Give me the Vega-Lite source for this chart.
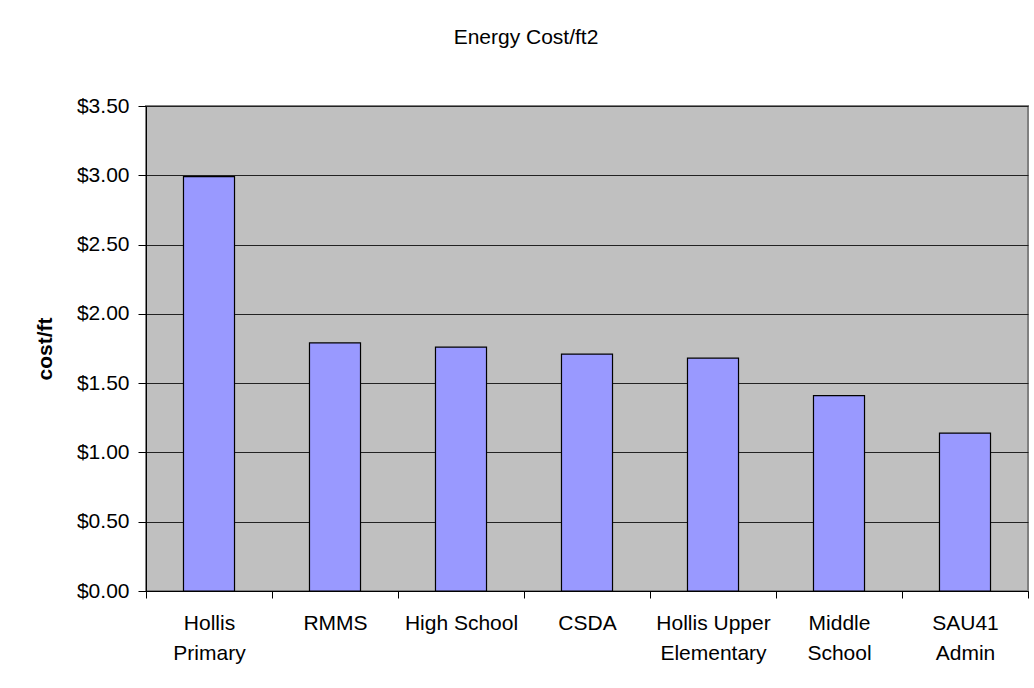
{
  "$schema": "https://vega.github.io/schema/vega-lite/v6.json",
  "width": 882,
  "height": 485,
  "autosize": {"type": "none"},
  "padding": {"left": 146, "top": 106, "right": 6, "bottom": 97},
  "background": "white",
  "title": {
    "text": "Energy Cost/ft2",
    "font": "Liberation Sans",
    "fontSize": 21,
    "fontWeight": "normal",
    "color": "black",
    "anchor": "middle",
    "frame": "group",
    "baseline": "alphabetic",
    "offset": 30,
    "dx": -61
  },
  "data": {
    "values": [
      {"school": "Hollis Primary", "cost": 2.99},
      {"school": "RMMS", "cost": 1.79},
      {"school": "High School", "cost": 1.76},
      {"school": "CSDA", "cost": 1.71},
      {"school": "Hollis Upper Elementary", "cost": 1.68},
      {"school": "Middle School", "cost": 1.41},
      {"school": "SAU41 Admin", "cost": 1.14}
    ]
  },
  "mark": {"type": "bar", "fill": "#9999FF", "stroke": "black", "strokeWidth": 1.2, "width": {"band": 0.405}},
  "encoding": {
    "x": {
      "field": "school",
      "type": "nominal",
      "sort": null,
      "scale": {"paddingInner": 0, "paddingOuter": 0},
      "axis": {
        "title": null,
        "labelAngle": 0,
        "labelFont": "Liberation Sans",
        "labelFontSize": 21,
        "labelColor": "black",
        "labelLineHeight": 30,
        "labelPadding": 14,
        "labelBaseline": "top",
        "tickBand": "extent",
        "tickSize": 7,
        "tickColor": "black",
        "domainColor": "black",
        "grid": false,
        "labelExpr": "datum.label == 'Hollis Primary' ? ['Hollis', 'Primary'] : datum.label == 'Hollis Upper Elementary' ? ['Hollis Upper', 'Elementary'] : datum.label == 'Middle School' ? ['Middle', 'School'] : datum.label == 'SAU41 Admin' ? ['SAU41', 'Admin'] : datum.label"
      }
    },
    "y": {
      "field": "cost",
      "type": "quantitative",
      "scale": {"domain": [0, 3.5], "nice": false},
      "axis": {
        "title": "cost/ft",
        "titleFont": "Liberation Sans",
        "titleFontSize": 21,
        "titleFontWeight": "bold",
        "titleColor": "black",
        "titleX": -101,
        "titleBaseline": "middle",
        "values": [0, 0.5, 1, 1.5, 2, 2.5, 3, 3.5],
        "format": "$.2f",
        "labelFont": "Liberation Sans",
        "labelFontSize": 21,
        "labelColor": "black",
        "labelPadding": 9,
        "tickSize": 8,
        "tickColor": "black",
        "domainColor": "black",
        "grid": true,
        "gridColor": "#222222",
        "gridOpacity": 1,
        "gridWidth": 1
      }
    }
  },
  "config": {
    "view": {"fill": "#C0C0C0", "stroke": "#808080", "strokeWidth": 2},
    "axis": {"domainWidth": 1, "tickWidth": 1}
  }
}
